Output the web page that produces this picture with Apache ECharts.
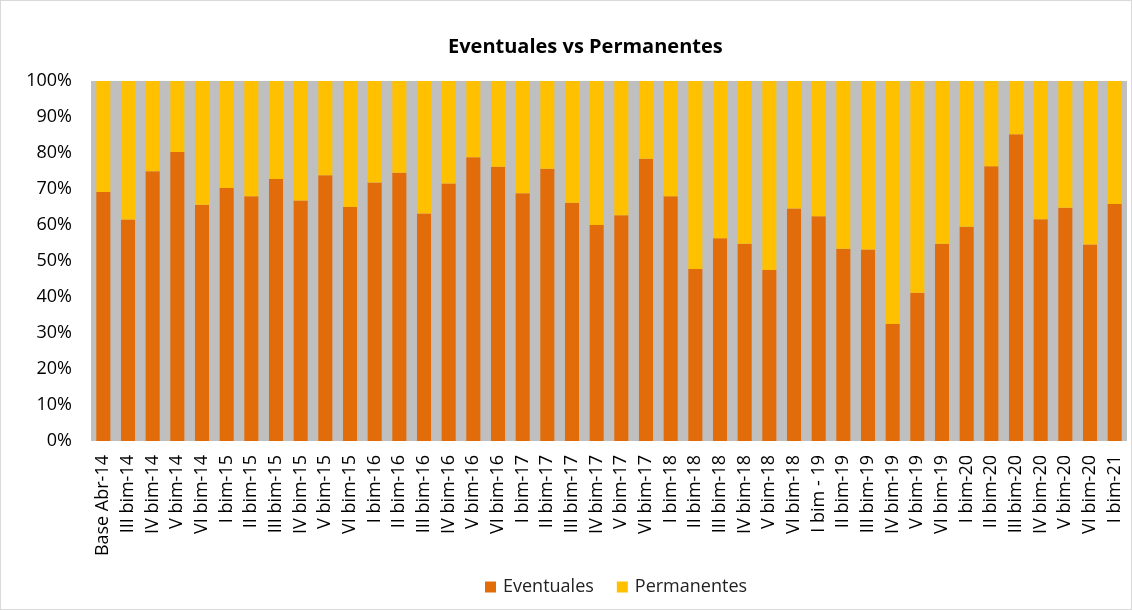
<!DOCTYPE html>
<html>
<head>
<meta charset="utf-8">
<script src="https://cdn.jsdelivr.net/npm/echarts@6/dist/echarts.min.js"></script>
<style>
  html, body { margin: 0; padding: 0; background: #fff; }
  #chart { width: 1132px; height: 610px; box-sizing: border-box; border: 1px solid #d9d9d9; }
</style>
</head>
<body>
<div id="chart"></div>
<script>
var categorias = ['Base Abr-14','III bim-14','IV bim-14','V bim-14','VI bim-14',
  'I bim-15','II bim-15','III bim-15','IV bim-15','V bim-15','VI bim-15',
  'I bim-16','II bim-16','III bim-16','IV bim-16','V bim-16','VI bim-16',
  'I bim-17','II bim-17','III bim-17','IV bim-17','V bim-17','VI bim-17',
  'I bim-18','II bim-18','III bim-18','IV bim-18','V bim-18','VI bim-18',
  'I bim - 19','II bim-19','III bim-19','IV bim-19','V bim-19','VI bim-19',
  'I bim-20','II bim-20','III bim-20','IV bim-20','V bim-20','VI bim-20',
  'I bim-21'];

// % eventuales
var eventuales = [69.2, 61.5, 74.9, 80.3, 65.6,
  70.3, 68, 72.8, 66.8, 73.8, 65,
  71.8, 74.5, 63.2, 71.5, 78.8, 76.2,
  68.8, 75.6, 66.2, 60, 62.7, 78.4,
  68, 47.8, 56.3, 54.8, 47.5, 64.6,
  62.4, 53.4, 53.2, 32.5, 41.2, 54.8,
  59.5, 76.3, 85.2, 61.6, 64.8, 54.6,
  65.8];

var permanentes = eventuales.map(function(v){ return +(100 - v).toFixed(1) });

var chart = echarts.init(document.getElementById('chart'));
var font = '"Open Sans", "Noto Sans", sans-serif';
var option = {
  title: {
    text: 'Eventuales vs Permanentes',
    left: 442,
    top: 31,
    textStyle: { fontFamily: font, fontSize: 20, fontWeight: 'bold', color: '#000' }
  },
  legend: {
    bottom: 8,
    left: 479,
    itemWidth: 11,
    itemHeight: 11,
    itemGap: 23,
    icon: 'rect',
    textStyle: { fontFamily: font, fontSize: 18, color: '#222', padding: [0, 0, 0, 2] },
    data: ['Eventuales', 'Permanentes']
  },
  grid: { left: 90, right: 4, top: 80, bottom: 168, backgroundColor: '#bfbfbf', show: true, borderWidth: 0 },
  xAxis: {
    type: 'category',
    data: categorias,
    axisLine: { show: false },
    axisTick: { show: false },
    axisLabel: { rotate: 90, interval: 0, margin: 14, fontFamily: font, fontSize: 18, color: '#000' }
  },
  yAxis: {
    type: 'value',
    min: 0,
    max: 100,
    interval: 10,
    splitLine: { show: false },
    axisLine: { show: false },
    axisLabel: { formatter: '{value}%', margin: 19, fontFamily: font, fontSize: 18, color: '#000' }
  },
  series: [
    {
      name: 'Eventuales',
      type: 'bar',
      stack: 'total',
      data: eventuales,
      barCategoryGap: '43%',
      itemStyle: { color: '#e36c0a' }
    },
    {
      name: 'Permanentes',
      type: 'bar',
      stack: 'total',
      data: permanentes,
      barCategoryGap: '43%',
      itemStyle: { color: '#ffc000' }
    }
  ]
};
chart.setOption(option);
</script>
</body>
</html>
